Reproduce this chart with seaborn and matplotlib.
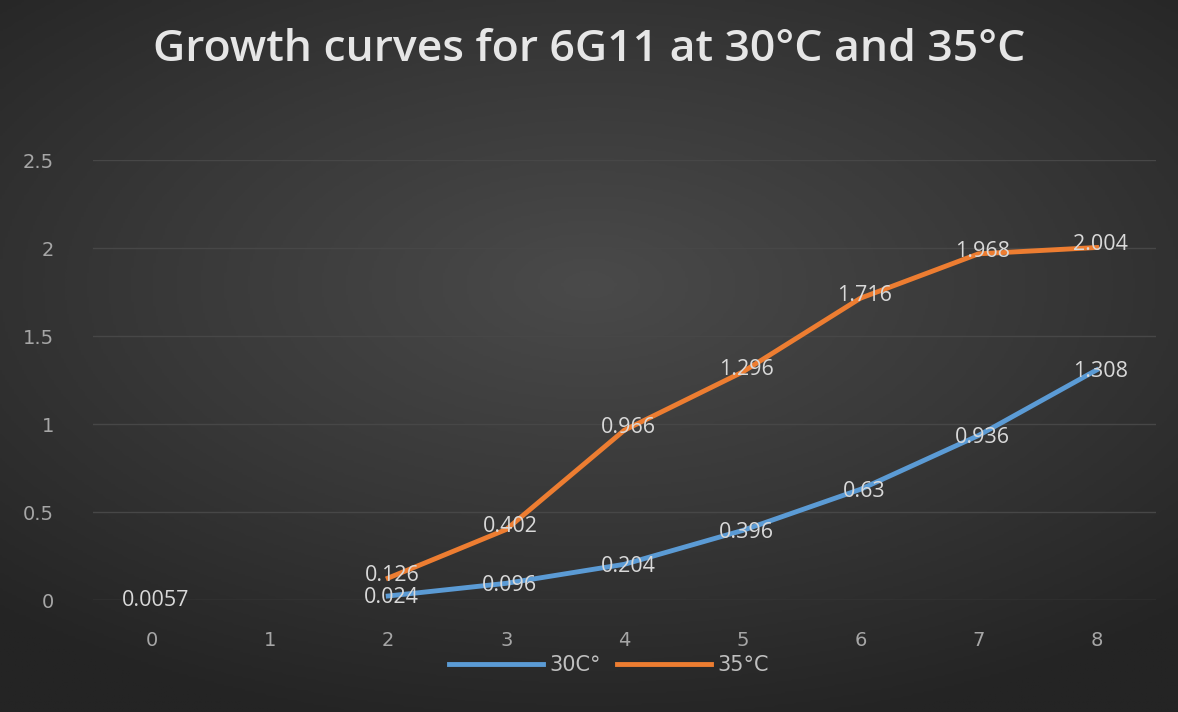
import numpy as np
import pandas as pd
import seaborn as sns
import matplotlib.pyplot as plt
from matplotlib.lines import Line2D

TITLE = 'Growth curves for 6G11 at 30°C and 35°C'
HOURS = [0, 1, 2, 3, 4, 5, 6, 7, 8]
T30 = [0.0057, np.nan, 0.024, 0.096, 0.204, 0.396, 0.63, 0.936, 1.308]
T35 = [np.nan, np.nan, 0.126, 0.402, 0.966, 1.296, 1.716, 1.968, 2.004]
SERIES = ['30C°', '35°C']
LBL30 = ['0.0057', '', '0.024', '0.096', '0.204', '0.396', '0.63', '0.936', '1.308']
LBL35 = ['', '', '0.126', '0.402', '0.966', '1.296', '1.716', '1.968', '2.004']
CLRS = ('#5b9bd5', '#ed7d31')
###############################################################################
# Long table, split where a value is missing so the line breaks there
###############################################################################
rows = []
for (name, vals) in zip(SERIES, (T30, T35)):
    seg = 0
    for (h, v) in zip(HOURS, vals):
        if np.isnan(v):
            seg += 1
            continue
        rows.append({'hour': h, 'od': v, 'series': name, 'seg': seg})
df = pd.DataFrame(rows)
###############################################################################
# Plot
###############################################################################
fig = plt.figure(figsize=(11.78, 7.12), dpi=100)
bg = fig.add_axes([0, 0, 1, 1], zorder=-10)
(yy, xx) = np.mgrid[-1:1:300j, -1:1:500j]
rad = np.sqrt((xx / 1.1) ** 2 + ((yy + 0.2) / 0.95) ** 2)
bg.imshow(rad, cmap=sns.blend_palette(['#4a4a4a', '#383838', '#242424'], as_cmap=True),
          aspect='auto', extent=(0, 1, 0, 1), vmin=0, vmax=1.35)
bg.axis('off')

ax = fig.add_axes([0.079, 0.157, 0.902, 0.618])
ax.patch.set_alpha(0)
sns.lineplot(data=df, x='hour', y='od', hue='series', units='seg', estimator=None,
             palette=dict(zip(SERIES, CLRS)), linewidth=3.5, ax=ax, legend=False,
             sort=False)
for (vals, lbls, dy) in ((T30, LBL30, -0.01), (T35, LBL35, 0.015)):
    for (h, v, t) in zip(HOURS, vals, lbls):
        if t:
            ax.text(h + 0.03, v + dy, t, ha='center', va='center', color='#d9d9d9',
                    fontsize=15.5, family='Open Sans')
ax.set_xlim(-0.5, 8.5)
ax.set_ylim(0, 2.5)
ax.set_xticks(HOURS)
ax.set_yticks([0, 0.5, 1, 1.5, 2, 2.5])
ax.set_yticklabels(['0', '0.5', '1', '1.5', '2', '2.5'])
ax.grid(axis='y', color='#474747', linewidth=1)
ax.set_axisbelow(True)
for s in ax.spines.values():
    s.set_visible(False)
ax.tick_params(length=0, colors='#a6a6a6', labelsize=14, pad=22)
ax.tick_params(axis='y', pad=28)
ax.set(xlabel=None, ylabel=None)

handles = [Line2D([], [], color=c, linewidth=3.5) for c in CLRS]
leg = fig.legend(handles, SERIES, loc='center', bbox_to_anchor=(0.517, 0.066), ncol=2,
                 frameon=False, fontsize=15, handlelength=4.5, columnspacing=0.8,
                 handletextpad=0.3)
for t in leg.get_texts():
    t.set_color('#bfbfbf')

fig.text(0.5, 0.93, TITLE, ha='center', va='center', color='#e6e6e6', fontsize=32,
         fontweight='semibold', family='Open Sans')
fig.savefig('out.png', dpi=100)
